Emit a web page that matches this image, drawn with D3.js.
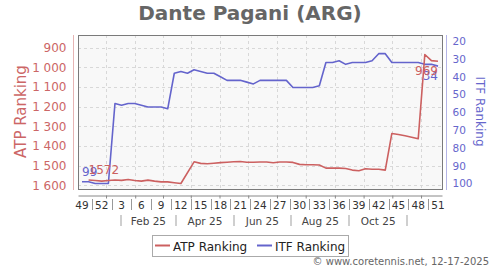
<!DOCTYPE html>
<html>
<head>
<meta charset="utf-8">
<script src="https://cdn.jsdelivr.net/npm/d3@7"></script>
<style>
  body { margin: 0; background: #fff; }
  svg { font-family: "DejaVu Sans", sans-serif; display: block; }
</style>
</head>
<body>
<div id="chart"></div>
<script>
// ranking weeks, from week 49 of 2024 to week 51 of 2025
var weekLabels = [49, 50, 51, 52, 1, 2, 3, 4, 5, 6, 7, 8, 9, 10, 11, 12, 13, 14, 15,
  16, 17, 18, 19, 20, 21, 22, 23, 24, 25, 26, 27, 28, 29, 30, 31, 32, 33, 34, 35,
  36, 37, 38, 39, 40, 41, 42, 43, 44, 45, 46, 47, 48, 49, 50, 51];
var atpRanking = [null, 1572, 1575, 1578, 1575, 1572, 1574, 1570, 1575, 1578, 1573,
  1578, 1582, 1582, 1586, 1590, null, 1480, 1488, 1490, 1487, 1484, 1482, 1480,
  1478, 1482, 1482, 1481, 1481, 1485, 1481, 1481, 1483, 1493, 1495, 1495, 1496,
  1512, 1512, 1512, 1514, 1522, 1525, 1515, 1518, 1518, 1522, 1336, 1341, 1348,
  1355, 1363, 935, 966, 969];
var itfRanking = [99, 99, 100, 100, 100, 55, 56, 55, 55, 56, 57, 57, 57, 58, 38, 37,
  38, 36, 37, 38, 38, 40, 42, 42, 42, 43, 44, 42, 42, 42, 42, 42, 46, 46, 46, 46,
  45, 32, 32, 31, 33, 32, 32, 32, 31, 27, 27, 32, 32, 32, 32, 32, 33, 33, 34];
var atpTicks = [900, 1000, 1100, 1200, 1300, 1400, 1500, 1600];
var itfTicks = [20, 30, 40, 50, 60, 70, 80, 90, 100];
var monthLabels = ["Feb 25", "Apr 25", "Jun 25", "Aug 25", "Oct 25"];
var seriesNames = ["ATP Ranking", "ITF Ranking"];

var WIDTH = 500;
var HEIGHT = 270;
var PLOT = { left: 78, right: 442, top: 35, bottom: 189 };
var ATP_COLOR = "#cc6060";
var ITF_COLOR = "#6464cc";
var DAY = 864e5;
var firstWeek = new Date(2024, 10, 21);

function weekDate(i) {
  return new Date(firstWeek.getTime() + i * 7 * DAY);
}

var fmt = d3.formatLocale({ decimal: ".", thousands: " ", grouping: [3], currency: ["", ""] }).format(",");

var svg = d3.select("#chart").append("svg")
  .attr("width", WIDTH)
  .attr("height", HEIGHT);

var x = d3.scaleTime()
  .domain([weekDate(-0.607), weekDate(weekLabels.length - 1 + 0.607)])
  .range([PLOT.left, PLOT.right]);
var yAtp = d3.scaleLinear().domain([836, 1618]).range([PLOT.top, PLOT.bottom]);
var yItf = d3.scaleLinear().domain([16.5, 103.1]).range([PLOT.top, PLOT.bottom]);

// month boundaries and mid-month gridlines
var months = d3.timeMonth.range(new Date(2024, 11, 1), new Date(2025, 11, 1));
var monthMids = months.map(function(m) {
  var next = d3.timeMonth.offset(m, 1);
  return new Date((m.getTime() + next.getTime()) / 2);
}).filter(function(d) { return x(d) < PLOT.right; });
var monthSeps = d3.range(0, 12, 2).map(function(m) {
  return new Date(2025, m, 1);
});

// title
svg.append("text")
  .attr("x", WIDTH / 2)
  .attr("y", 19.5)
  .attr("text-anchor", "middle")
  .attr("font-size", 20)
  .attr("font-weight", "bold")
  .attr("fill", "#666")
  .text("Dante Pagani (ARG)");

// plot background
svg.append("rect")
  .attr("x", PLOT.left)
  .attr("y", PLOT.top)
  .attr("width", PLOT.right - PLOT.left)
  .attr("height", PLOT.bottom - PLOT.top)
  .attr("fill", "#f8f8f8");

var grid = svg.append("g")
  .attr("stroke", "#d8d8d8")
  .attr("stroke-dasharray", "3,3");
grid.selectAll(".hgrid")
  .data(atpTicks)
  .enter()
  .append("line")
  .attr("class", "hgrid")
  .attr("x1", PLOT.left)
  .attr("x2", PLOT.right)
  .attr("y1", function(d) { return Math.round(yAtp(d)) + 0.5; })
  .attr("y2", function(d) { return Math.round(yAtp(d)) + 0.5; });
grid.selectAll(".vgrid")
  .data(monthMids)
  .enter()
  .append("line")
  .attr("class", "vgrid")
  .attr("x1", function(d) { return Math.round(x(d)) + 0.5; })
  .attr("x2", function(d) { return Math.round(x(d)) + 0.5; })
  .attr("y1", PLOT.top)
  .attr("y2", PLOT.bottom);

svg.append("rect")
  .attr("x", PLOT.left + 0.5)
  .attr("y", PLOT.top + 0.5)
  .attr("width", PLOT.right - PLOT.left)
  .attr("height", PLOT.bottom - PLOT.top)
  .attr("fill", "none")
  .attr("stroke", "#7a7a7a");

// y axes
var leftAxis = svg.append("g")
  .attr("transform", "translate(73.5,0)")
  .call(d3.axisLeft(yAtp).tickValues(atpTicks).tickFormat(fmt)
    .tickSize(0).tickSizeOuter(0).tickPadding(7));
leftAxis.select(".domain").attr("stroke", "#e6b4b4").attr("d", "M0," + PLOT.top + "V" + (PLOT.bottom + 1));
leftAxis.selectAll("text")
  .attr("font-family", "DejaVu Sans")
  .attr("font-size", 12)
  .attr("fill", "#cc6666");

var rightAxis = svg.append("g")
  .attr("transform", "translate(446.5,0)")
  .call(d3.axisRight(yItf).tickValues(itfTicks)
    .tickSize(0).tickSizeOuter(0).tickPadding(6));
rightAxis.select(".domain").attr("stroke", "#b4b4e6").attr("d", "M0," + PLOT.top + "V" + (PLOT.bottom + 1));
rightAxis.selectAll("text")
  .attr("font-family", "DejaVu Sans")
  .attr("font-size", 10.5)
  .attr("fill", "#6666cc");

svg.append("text")
  .attr("transform", "translate(26,111.5) rotate(-90)")
  .attr("text-anchor", "middle")
  .attr("font-size", 15)
  .attr("fill", "#cc6666")
  .text("ATP Ranking");
svg.append("text")
  .attr("transform", "translate(476,111.5) rotate(90)")
  .attr("text-anchor", "middle")
  .attr("font-size", 12)
  .attr("fill", "#6666cc")
  .text("ITF Ranking");

// x axis with week labels and month bands
var xAxis = svg.append("g")
  .attr("transform", "translate(0,195.5)")
  .call(d3.axisBottom(x).tickValues(monthMids)
    .tickFormat("").tickSize(3).tickSizeOuter(0));
xAxis.selectAll(".domain, line").attr("stroke", "#888");

var weekIdx = d3.range(0, weekLabels.length, 3);
svg.append("g").selectAll("text")
  .data(weekIdx)
  .enter()
  .append("text")
  .attr("x", function(i) { return x(weekDate(i)); })
  .attr("y", 208.5)
  .attr("text-anchor", "middle")
  .attr("font-size", 10.5)
  .attr("fill", "#333")
  .text(function(i) { return weekLabels[i]; });
svg.append("g").selectAll("line")
  .data(weekIdx.slice(0, -1))
  .enter()
  .append("line")
  .attr("x1", function(i) { return Math.round(x(weekDate(i + 1.5))) + 0.5; })
  .attr("x2", function(i) { return Math.round(x(weekDate(i + 1.5))) + 0.5; })
  .attr("y1", 199)
  .attr("y2", 210)
  .attr("stroke", "#999");

svg.append("g").selectAll("line")
  .data(monthSeps)
  .enter()
  .append("line")
  .attr("x1", function(d) { return Math.round(x(d)); })
  .attr("x2", function(d) { return Math.round(x(d)); })
  .attr("y1", 215)
  .attr("y2", 226)
  .attr("stroke", "#cfcfcf")
  .attr("stroke-width", 2);
svg.append("g").selectAll("text")
  .data(monthLabels)
  .enter()
  .append("text")
  .attr("x", function(d, i) { return (x(monthSeps[i]) + x(monthSeps[i + 1])) / 2; })
  .attr("y", 224.5)
  .attr("text-anchor", "middle")
  .attr("font-size", 10.5)
  .attr("fill", "#444")
  .text(function(d) { return d; });

// series
function points(values) {
  return values
    .map(function(v, i) { return { i: i, v: v }; })
    .filter(function(d) { return d.v != null; });
}

function drawSeries(values, y, color) {
  var pts = points(values);
  svg.append("path")
    .datum(pts)
    .attr("fill", "none")
    .attr("stroke", color)
    .attr("stroke-width", 1.6)
    .attr("stroke-linejoin", "round")
    .attr("d", d3.line()
      .x(function(d) { return x(weekDate(d.i)); })
      .y(function(d) { return y(d.v); }));
  return pts;
}

var itfPts = drawSeries(itfRanking, yItf, ITF_COLOR);
var atpPts = drawSeries(atpRanking, yAtp, ATP_COLOR);

// first / last value labels
function endLabels(pts, y, color) {
  var first = pts[0];
  var last = pts[pts.length - 1];
  svg.append("text")
    .attr("x", x(weekDate(first.i)))
    .attr("y", y(first.v) - 6)
    .attr("font-size", 12)
    .attr("fill", color)
    .text(fmt(first.v).replace(" ", ""));
  svg.append("text")
    .attr("x", x(weekDate(last.i)))
    .attr("y", y(last.v) + 13.5)
    .attr("text-anchor", "end")
    .attr("font-size", 12)
    .attr("fill", color)
    .text(fmt(last.v).replace(" ", ""));
}
endLabels(itfPts, yItf, ITF_COLOR);
endLabels(atpPts, yAtp, ATP_COLOR);

// legend
var legend = svg.append("g");
legend.append("rect")
  .attr("x", 152.5)
  .attr("y", 235.5)
  .attr("width", 196)
  .attr("height", 21)
  .attr("fill", "#fff")
  .attr("stroke", "#aaa");
var itemX = [155, 257];
[ATP_COLOR, ITF_COLOR].forEach(function(c, k) {
  legend.append("line")
    .attr("x1", itemX[k])
    .attr("x2", itemX[k] + 15)
    .attr("y1", 245.5)
    .attr("y2", 245.5)
    .attr("stroke", c)
    .attr("stroke-width", 2);
  legend.append("text")
    .attr("x", itemX[k] + 18)
    .attr("y", 251)
    .attr("font-size", 12)
    .attr("fill", "#222")
    .text(seriesNames[k]);
});

svg.append("text")
  .attr("x", 489)
  .attr("y", 265)
  .attr("text-anchor", "end")
  .attr("font-size", 10)
  .attr("fill", "#666")
  .text("\u00a9 www.coretennis.net, 12-17-2025");
</script>
</body>
</html>
